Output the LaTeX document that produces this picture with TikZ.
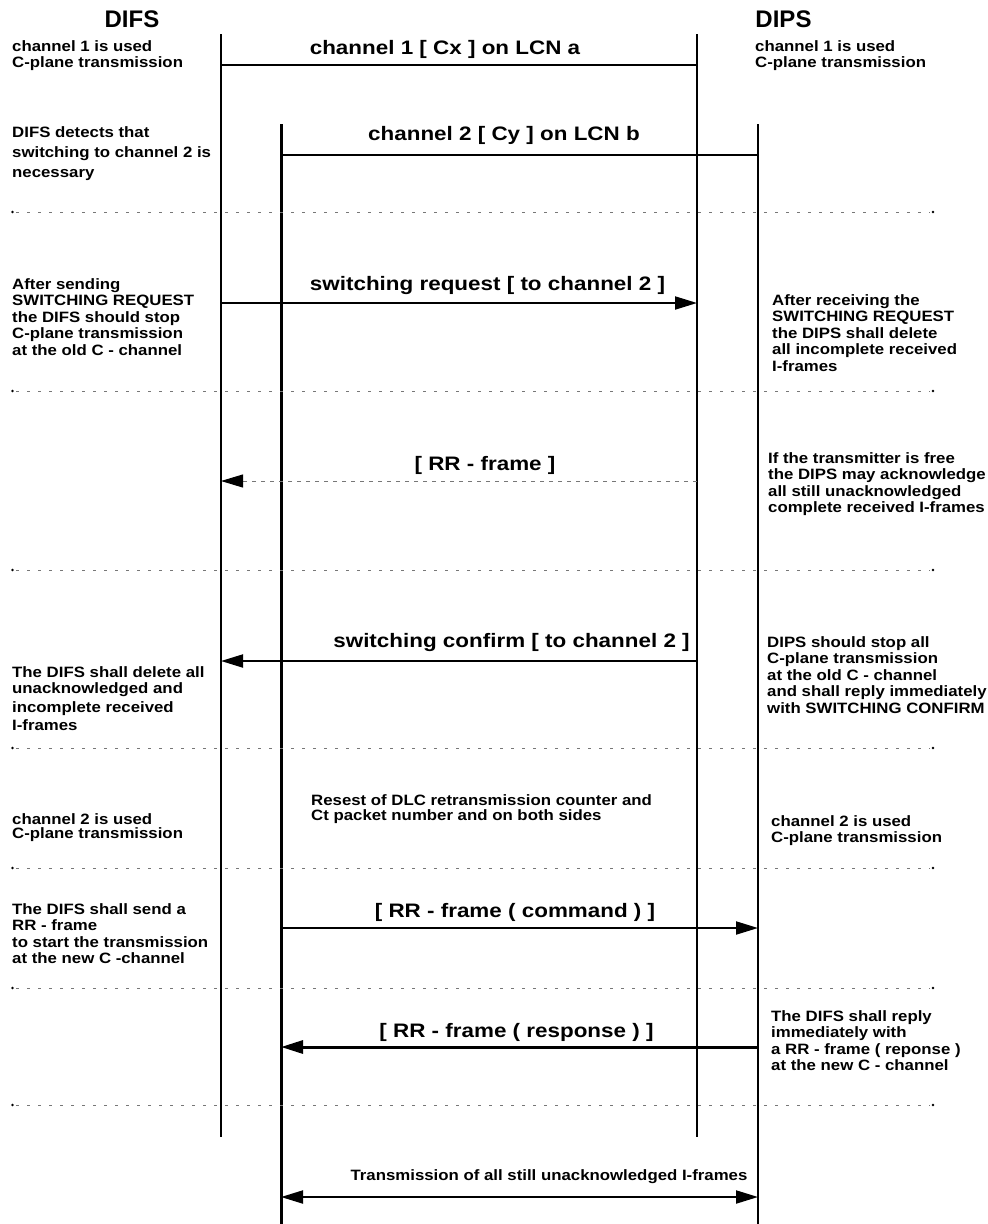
\documentclass[tikz,border=0pt]{standalone}
\usepackage{fontspec}
\newfontfamily\widesf{Liberation Sans}[FakeStretch=1.12]
\newfontfamily\msgsf{Liberation Sans}[FakeStretch=1.15]
\newfontfamily\headsf{Liberation Sans}
\usetikzlibrary{arrows.meta,positioning}
\definecolor{sepgrey}{HTML}{777777}
\tikzset{
  note/.style={anchor=north west,align=left,inner sep=0pt,font=\widesf\bfseries\fontsize{15}{16.5}\selectfont},
  msglabel/.style={anchor=base,inner sep=0pt,font=\msgsf\bfseries\fontsize{19.5}{22}\selectfont},
  head/.style={anchor=base,inner sep=0pt,font=\headsf\bfseries\fontsize{24}{28}\selectfont},
  life/.style={line width=2pt},
  lifebold/.style={line width=3pt},
  tip/.style={-{Triangle[length=22pt,width=13pt,color=black]}},
  msg/.style={line width=2pt,tip},
  sepline/.style={sepgrey,line width=1pt,dash pattern=on 3pt off 8pt}
}
\begin{document}
\begin{tikzpicture}[x=1pt,y=-1pt]
  \useasboundingbox (0,0) rectangle (988,1224);
  % lifelines
  \coordinate (A0) at (221,34);  \coordinate (A1) at (221,1137);
  \coordinate (B0) at (281,124); \coordinate (B1) at (281,1224);
  \coordinate (C0) at (697,34);  \coordinate (C1) at (697,1137);
  \coordinate (D0) at (758,124); \coordinate (D1) at (758,1224);
  \draw[life] (A0) -- (A1);
  \draw[lifebold] (B0) -- (B1);
  \draw[life] (C0) -- (C1);
  \draw[life] (D0) -- (D1);
  \node[head] (difs) at (132,27) {DIFS};
  \node[head] (dips) at (783.5,27) {DIPS};
  % separators
  \foreach \y in {212,391,570,748,868,988,1105}{
     \draw[sepline] (16,\y) -- (930,\y);
     \fill (12.5,\y) circle (1.4pt);
     \fill (933,\y) circle (1.4pt);}
  % message heights
  \coordinate (y1) at (0,64.7);
  \coordinate (y2) at (0,155);
  \coordinate (y3) at (0,303);
  \coordinate (y4) at (0,481);
  \coordinate (y5) at (0,661);
  \coordinate (y6) at (0,928);
  \coordinate (y7) at (0,1047);
  \coordinate (y8) at (0,1197);
  \node[msglabel] (ch1) at (445,54) {channel 1 [ Cx ] on LCN a};
  \node[msglabel] (ch2) at (504,140) {channel 2 [ Cy ] on LCN b};
  \node[msglabel] (req) at (487.5,290) {switching request [ to channel 2 ]};
  \node[msglabel] (rr) at (485,470) {[ RR - frame ]};
  \node[msglabel] (conf) at (511.5,647) {switching confirm [ to channel 2 ]};
  \node[msglabel] (cmd) at (515,917) {[ RR - frame ( command ) ]};
  \node[msglabel] (resp) at (516.5,1037) {[ RR - frame ( response ) ]};
  \node[note,anchor=base] (trans) at (549,1180) {Transmission of all still unacknowledged I-frames};
  \draw[line width=2pt] (A0 |- y1) -- (C0 |- y1);
  \draw[line width=2pt] (B0 |- y2) -- (D0 |- y2);
  \draw[msg] (A0 |- y3) -- (C0 |- y3);
  \draw[sepgrey,line width=1pt,dash pattern=on 4pt off 5pt,tip] (C0 |- y4) -- (A0 |- y4);
  \draw[msg] (C0 |- y5) -- (A0 |- y5);
  \draw[msg] (B0 |- y6) -- (D0 |- y6);
  \draw[msg,line width=3pt] (D0 |- y7) -- (B0 |- y7);
  \draw[line width=2pt,{Triangle[length=22pt,width=13pt]}-{Triangle[length=22pt,width=13pt]}] (B0 |- y8) -- (D0 |- y8);
  % side notes
  \node[note] (l1) at (12,40.1) {channel 1 is used\\C-plane transmission};
  \node[note] (r1) at (755,40.1) {channel 1 is used\\C-plane transmission};
  \node[note] (l2) at (12,126.1) {DIFS detects that\\[3.5pt]switching to channel 2 is\\[3.5pt]necessary};
  \node[note] (l3) at (12,278.1) {After sending\\SWITCHING REQUEST\\the DIFS should stop\\C-plane transmission\\at the old C - channel};
  \node[note] (r3) at (772,294.1) {After receiving the\\SWITCHING REQUEST\\the DIPS shall delete\\all incomplete received\\I-frames};
  \node[note] (r4) at (768,452.1) {If the transmitter is free\\the DIPS may acknowledge\\all still unacknowledged\\complete received I-frames};
  \node[note] (l5) at (12,666.1) {The DIFS shall delete all\\unacknowledged and\\[2pt]incomplete received\\[2pt]I-frames};
  \node[note] (r5) at (767,636.1) {DIPS should stop all\\C-plane transmission\\at the old C - channel\\and shall reply immediately\\with SWITCHING CONFIRM};
  \node[note] (reset) at (311,794.1) {Resest of DLC retransmission counter and\\[-1.5pt]Ct packet number and on both sides};
  \node[note] (l6) at (12,813.1) {channel 2 is used\\[-2pt]C-plane transmission};
  \node[note] (r6) at (771,815.1) {channel 2 is used\\C-plane transmission};
  \node[note] (l7) at (12,903.1) {The DIFS shall send a\\RR - frame\\to start the transmission\\at the new C -channel};
  \node[note] (r8) at (771,1010.1) {The DIFS shall reply\\immediately with\\a RR - frame ( reponse )\\at the new C - channel};
\end{tikzpicture}
\end{document}
